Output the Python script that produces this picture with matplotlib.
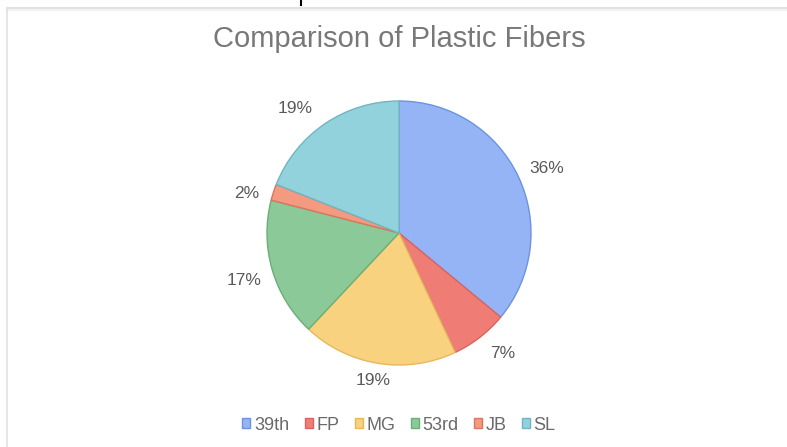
import numpy as np
import matplotlib
matplotlib.use("Agg")
import matplotlib.pyplot as plt
from matplotlib.lines import Line2D

plt.rcParams["font.family"] = ["Liberation Sans", "DejaVu Sans"]

# fiber share by site (percent)
sites  = ["39th", "FP", "MG", "53rd", "JB", "SL"]
shares = [36, 7, 19, 17, 2, 19]

face_colors = ["#95b4f6", "#ef7d76", "#f8d27f", "#8cc998", "#f39a80", "#92d2dc"]
edge_colors = ["#6d92de", "#d9645e", "#e6b85e", "#6aae78", "#d9765d", "#70b6c2"]

# label placement: radius (pie units) and angle nudge (deg) per slice
label_r     = [1.224, 1.203, 1.131, 1.227, 1.191, 1.232]
label_nudge = [-1.5, 3.1, -1.0, 0.7, 3.3, 5.6]

fig = plt.figure(figsize=(7.87, 4.47), dpi=100)
fig.patch.set_facecolor("white")

# thin frame lines along top and left
fig.add_artist(Line2D([7/787, 1], [1 - 8/447, 1 - 8/447], color="#dcdcdc", lw=1.2,
                      transform=fig.transFigure))
fig.add_artist(Line2D([7/787, 1], [1 - 10/447, 1 - 10/447], color="#f3f3f3", lw=1.5,
                      transform=fig.transFigure))
fig.add_artist(Line2D([7/787, 7/787], [0, 1 - 8/447], color="#e2e2e2", lw=1.2,
                      transform=fig.transFigure))
fig.add_artist(Line2D([300.5/787, 300.5/787], [1, 1 - 5/447], color="black", lw=1.5,
                      transform=fig.transFigure))

ax = fig.add_axes([201/787, 16/447, 396/787, 396/447])

wedges, _ = ax.pie(shares, colors=face_colors, startangle=90, counterclock=False,
                   radius=1.0, wedgeprops=dict(linewidth=1.0))
for w, ec in zip(wedges, edge_colors):
    w.set_edgecolor(ec)

for w, val, r, nudge in zip(wedges, shares, label_r, label_nudge):
    mid = np.deg2rad((w.theta1 + w.theta2) / 2 + nudge)
    ax.text(r * np.cos(mid), r * np.sin(mid), f"{val}%", ha="center", va="center",
            fontsize=12.5, color="#5a5a5a")

ax.set_xlim(-1.5, 1.5)
ax.set_ylim(-1.5, 1.5)
ax.set_aspect("equal")
ax.axis("off")

fig.text(399/787, 1 - 39/447, "Comparison of Plastic Fibers", ha="center", va="center",
         fontsize=21, color="#787878")

fig.legend(wedges, sites, loc="center", bbox_to_anchor=(399/787, 1 - 425/447),
           ncol=6, frameon=False, fontsize=13, labelcolor="#6a6a6a",
           handlelength=0.45, handleheight=0.45, handletextpad=0.2, columnspacing=0.85)

plt.savefig("out.png", dpi=100)
plt.close()
